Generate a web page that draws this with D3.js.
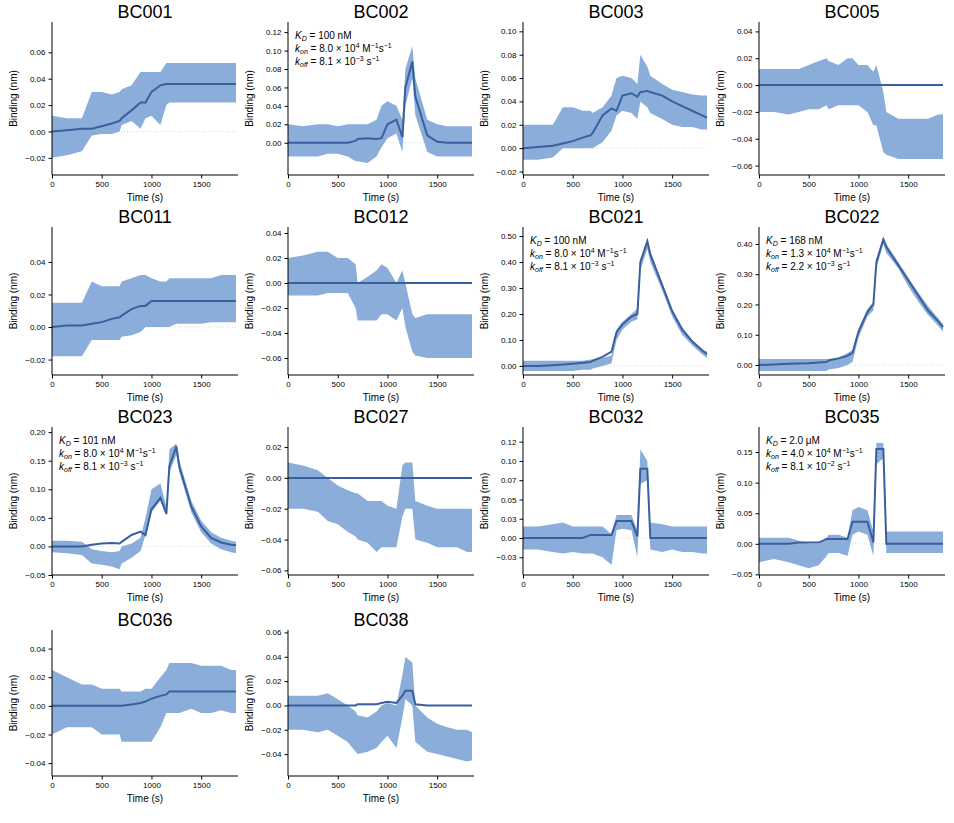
<!DOCTYPE html>
<html><head><meta charset="utf-8">
<script src="https://cdn.jsdelivr.net/npm/d3@7"></script>
<style>body{margin:0;background:#fff}svg{font-family:"Liberation Sans",Arial,sans-serif}</style>
</head><body><svg id="c" width="954" height="823"></svg>
<script>
const times=[0,150,300,400,500,600,680,700,800,890,940,1000,1090,1150,1180,1250,1280,1400,1500,1600,1700,1800,1850];
const names=["BC001","BC002","BC003","BC005","BC011","BC012","BC021","BC022","BC023","BC027","BC032","BC035","BC036","BC038"];
const yDomains=[[-0.033,0.083],[-0.035,0.131],[-0.023,0.108],[-0.067,0.047],[-0.0295,0.0615],[-0.0736,0.0448],[-0.035,0.535],[-0.033,0.456],[-0.05,0.209],[-0.063,0.033],[-0.048,0.144],[-0.051,0.191],[-0.049,0.053],[-0.058,0.062]];
const yTicks=[[-0.02,0,0.02,0.04,0.06],[0,0.02,0.04,0.06,0.08,0.1,0.12],[-0.02,0,0.02,0.04,0.06,0.08,0.1],[-0.06,-0.04,-0.02,0,0.02,0.04],[-0.02,0,0.02,0.04],[-0.06,-0.04,-0.02,0,0.02,0.04],[0,0.1,0.2,0.3,0.4,0.5],[0,0.1,0.2,0.3,0.4],[-0.05,0,0.05,0.1,0.15,0.2],[-0.06,-0.04,-0.02,0,0.02],[-0.025,0,0.025,0.05,0.075,0.1,0.125],[-0.05,0,0.05,0.1,0.15],[-0.04,-0.02,0,0.02,0.04],[-0.04,-0.02,0,0.02,0.04,0.06]];
const bc032TickLabels=["−0.03","0.00","0.03","0.05","0.07","0.10","0.12"];
const Z=new Array(23).fill(0);
const fits=[
[0,0.001,0.002,0.002,0.004,0.006,0.008,0.01,0.016,0.022,0.022,0.03,0.035,0.036,0.036,0.036,0.036,0.036,0.036,0.036,0.036,0.036,0.036],
[0,0,0,0,0,0,0.002,0.004,0.005,0.004,0.005,0.02,0.025,0.006,0.06,0.088,0.05,0.008,0.001,0,0,0,0],
[0,0.001,0.002,0.004,0.006,0.009,0.011,0.013,0.028,0.034,0.032,0.045,0.047,0.044,0.048,0.049,0.048,0.045,0.04,0.036,0.032,0.028,0.026],
Z,
[0,0.001,0.001,0.002,0.003,0.005,0.006,0.007,0.011,0.013,0.013,0.016,0.016,0.016,0.016,0.016,0.016,0.016,0.016,0.016,0.016,0.016,0.016],
Z,
[0,0,0.003,0.005,0.008,0.012,0.015,0.02,0.035,0.055,0.13,0.16,0.19,0.2,0.4,0.48,0.43,0.31,0.21,0.14,0.095,0.06,0.045],
[0,0.002,0.004,0.005,0.006,0.008,0.01,0.015,0.022,0.03,0.04,0.11,0.175,0.2,0.34,0.415,0.39,0.33,0.28,0.23,0.18,0.145,0.125],
[0,0,0,0.003,0.005,0.006,0.005,0.008,0.02,0.026,0.02,0.065,0.085,0.057,0.14,0.175,0.14,0.07,0.035,0.015,0.007,0.003,0.002],
Z,
[0,0,0,0,0,0,0.004,0.004,0.004,0.004,0.022,0.022,0.022,0.002,0.09,0.09,0,0,0,0,0,0,0],
[0,0,0,0.002,0.002,0.002,0.008,0.008,0.008,0.008,0.036,0.036,0.036,0.002,0.155,0.155,0,0,0,0,0,0,0],
[0,0,0,0,0,0,0,0,0.001,0.002,0.003,0.005,0.007,0.008,0.01,0.01,0.01,0.01,0.01,0.01,0.01,0.01,0.01],
[0,0,0,0,0,0,0,0.001,0.001,0.001,0.002,0.003,0.002,0.008,0.012,0.012,0.001,0,0,0,0,0,0]];
const lows=[
[-0.02,-0.018,-0.015,-0.003,-0.002,-0.002,0,0.005,0.008,0.002,0.01,0.012,0.005,0.02,0.022,0.022,0.022,0.022,0.022,0.022,0.022,0.022,0.022],
[-0.015,-0.015,-0.015,-0.012,-0.012,-0.015,-0.02,-0.02,-0.022,-0.015,-0.005,0.005,0.01,-0.01,0.04,0.07,0.03,-0.01,-0.015,-0.015,-0.015,-0.015,-0.015],
[-0.01,-0.01,-0.008,0,0,0,0,0,0.005,0.015,0.028,0.032,0.03,0.025,0.04,0.035,0.03,0.025,0.02,0.018,0.018,0.016,0.016],
[-0.02,-0.02,-0.022,-0.02,-0.018,-0.018,-0.015,-0.018,-0.015,-0.015,-0.015,-0.015,-0.02,-0.03,-0.03,-0.05,-0.052,-0.055,-0.055,-0.055,-0.055,-0.055,-0.055],
[-0.018,-0.018,-0.018,-0.008,-0.008,-0.008,-0.008,-0.006,-0.005,-0.003,0,0,0,0,0,0.002,0.002,0.002,0.002,0.003,0.003,0.003,0.003],
[-0.01,-0.01,-0.01,-0.008,-0.008,-0.008,-0.02,-0.03,-0.03,-0.03,-0.025,-0.025,-0.03,-0.02,-0.035,-0.055,-0.058,-0.06,-0.06,-0.06,-0.06,-0.06,-0.06],
[-0.02,-0.02,-0.02,-0.02,-0.02,-0.015,-0.015,-0.01,0,0.01,0.1,0.14,0.17,0.18,0.37,0.45,0.4,0.29,0.19,0.12,0.08,0.045,0.03],
[-0.02,-0.02,-0.02,-0.02,-0.02,-0.02,-0.02,-0.015,-0.01,0,0.01,0.09,0.16,0.18,0.32,0.4,0.37,0.32,0.26,0.21,0.165,0.13,0.11],
[-0.01,-0.012,-0.015,-0.03,-0.032,-0.035,-0.04,-0.03,-0.02,-0.008,0.02,0.06,0.08,0.055,0.13,0.16,0.13,0.06,0.025,0.005,-0.005,-0.01,-0.012],
[-0.02,-0.02,-0.022,-0.028,-0.03,-0.035,-0.038,-0.04,-0.042,-0.048,-0.045,-0.045,-0.045,-0.025,-0.02,-0.02,-0.04,-0.042,-0.045,-0.045,-0.045,-0.048,-0.048],
[-0.015,-0.015,-0.018,-0.02,-0.018,-0.02,-0.02,-0.02,-0.025,-0.035,0.01,0.012,0.01,-0.025,0.07,0.075,-0.015,-0.018,-0.015,-0.018,-0.018,-0.02,-0.02],
[-0.03,-0.025,-0.03,-0.035,-0.04,-0.035,-0.02,-0.015,-0.015,-0.02,0.015,0.02,0.015,-0.02,0.13,0.14,-0.015,-0.015,-0.015,-0.015,-0.015,-0.015,-0.015],
[-0.02,-0.015,-0.015,-0.015,-0.02,-0.02,-0.02,-0.025,-0.025,-0.025,-0.025,-0.025,-0.015,-0.005,-0.005,-0.005,-0.005,-0.002,-0.005,-0.005,-0.003,-0.005,-0.005],
[-0.02,-0.02,-0.022,-0.02,-0.025,-0.03,-0.038,-0.04,-0.038,-0.035,-0.03,-0.025,-0.035,-0.01,0.005,0,-0.03,-0.038,-0.04,-0.042,-0.044,-0.046,-0.045]];
const highs=[
[0.012,0.01,0.01,0.03,0.03,0.028,0.03,0.032,0.035,0.045,0.045,0.045,0.045,0.052,0.052,0.052,0.052,0.052,0.052,0.052,0.052,0.052,0.052],
[0.02,0.018,0.02,0.02,0.018,0.02,0.02,0.02,0.02,0.025,0.04,0.045,0.04,0.025,0.08,0.105,0.07,0.025,0.02,0.018,0.018,0.018,0.018],
[0.02,0.02,0.02,0.035,0.035,0.032,0.032,0.03,0.035,0.045,0.06,0.062,0.06,0.055,0.08,0.07,0.062,0.055,0.05,0.048,0.046,0.045,0.045],
[0.012,0.012,0.012,0.012,0.015,0.018,0.02,0.018,0.015,0.02,0.02,0.015,0.015,0.01,0.015,-0.005,-0.02,-0.025,-0.025,-0.025,-0.025,-0.022,-0.022],
[0.015,0.015,0.015,0.028,0.025,0.025,0.025,0.028,0.03,0.032,0.032,0.03,0.028,0.028,0.03,0.03,0.03,0.03,0.03,0.03,0.032,0.032,0.032],
[0.02,0.022,0.025,0.025,0.02,0.02,0.015,0,0.005,0.01,0.015,0.012,0,0.01,0,-0.025,-0.028,-0.025,-0.025,-0.025,-0.025,-0.025,-0.025],
[0.02,0.02,0.02,0.02,0.02,0.02,0.025,0.025,0.03,0.04,0.14,0.17,0.2,0.22,0.41,0.48,0.44,0.32,0.22,0.15,0.1,0.065,0.055],
[0.02,0.02,0.02,0.02,0.02,0.02,0.02,0.02,0.025,0.04,0.05,0.12,0.185,0.21,0.35,0.425,0.4,0.34,0.29,0.24,0.195,0.155,0.135],
[0.01,0.01,0.008,-0.005,-0.008,-0.01,-0.008,0,0.005,0.015,0.05,0.1,0.11,0.07,0.17,0.18,0.15,0.08,0.045,0.025,0.015,0.01,0.008],
[0.01,0.008,0.005,0,-0.005,-0.008,-0.01,-0.01,-0.015,-0.015,-0.015,-0.018,-0.02,0.008,0.01,0.01,-0.015,-0.018,-0.02,-0.02,-0.02,-0.02,-0.02],
[0.015,0.015,0.018,0.02,0.015,0.015,0.015,0.015,0.015,0.005,0.03,0.03,0.03,0.01,0.115,0.1,0.02,0.018,0.015,0.015,0.015,0.015,0.015],
[0.01,0.01,0.01,0.005,0,0,0.01,0.015,0.015,0.01,0.055,0.06,0.055,0.02,0.165,0.165,0.02,0.02,0.02,0.02,0.02,0.02,0.02],
[0.025,0.02,0.015,0.015,0.012,0.012,0.012,0.01,0.01,0.01,0.012,0.012,0.02,0.025,0.03,0.03,0.03,0.03,0.028,0.028,0.028,0.025,0.025],
[0.008,0.008,0.008,0.01,0.005,0,-0.005,-0.008,-0.01,-0.005,0,0.002,0,0.025,0.04,0.035,0,-0.01,-0.015,-0.018,-0.02,-0.02,-0.022]];
const xTicks=[0,500,1000,1500];
const annot={"BC002":["100 nM","8.0 × 10","4","8.1 × 10","−3"],"BC021":["100 nM","8.0 × 10","4","8.1 × 10","−3"],"BC022":["168 nM","1.3 × 10","4","2.2 × 10","−3"],"BC023":["101 nM","8.0 × 10","4","8.1 × 10","−3"],"BC035":["2.0 μM","4.0 × 10","4","8.1 × 10","−2"]};

const svg=d3.select("#c");
const lefts=[52,288,523,759], W=186;
const rows=[[22,175],[227,375],[427,575],[630,776]];
const fmt=v=>d3.format(".2f")(v).replace("-","−");
names.forEach((nm,i)=>{
  const col=i%4,row=Math.floor(i/4);
  const x0=lefts[col],[top,bot]=rows[row];
  const x=d3.scaleLinear().domain([0,1870]).range([x0,x0+W]);
  const y=d3.scaleLinear().domain(yDomains[i]).range([bot,top]);
  const g=svg.append("g");
  const pts=times.map((t,k)=>({t,lo:lows[i][k],hi:highs[i][k],f:fits[i][k]}));
  g.append("line").attr("x1",x(0)).attr("x2",x(1870)).attr("y1",y(0)).attr("y2",y(0)).attr("stroke","#ccc").attr("stroke-width",0.8).attr("stroke-dasharray","1,2");
  g.append("path").datum(pts).attr("d",d3.area().x(d=>x(d.t)).y0(d=>y(d.lo)).y1(d=>y(d.hi))).attr("fill","#8aaed9");
  g.append("path").datum(pts).attr("d",d3.line().x(d=>x(d.t)).y(d=>y(d.f))).attr("fill","none").attr("stroke","#3a5f9f").attr("stroke-width",2);
  const ax=g.append("g").attr("transform",`translate(0,${bot})`).call(d3.axisBottom(x).tickValues(xTicks).tickSize(3.5).tickFormat(d3.format("d")));
  const yf = nm==="BC032" ? ((v,k)=>bc032TickLabels[k]) : fmt;
  const ay=g.append("g").attr("transform",`translate(${x0},0)`).call(d3.axisLeft(y).tickValues(yTicks[i]).tickSize(3.5).tickFormat(yf));
  [ax,ay].forEach(a=>{a.selectAll("text").attr("font-size",8).attr("fill","#000").attr("font-family","Liberation Sans, Arial");a.select(".domain").attr("stroke","#000");});
  ax.select(".domain").attr("d",`M${x0},0H${x0+W}`);
  ay.select(".domain").attr("d",`M0,${bot}V${top}`);
  g.append("text").attr("x",x(935)).attr("y",bot+26).attr("text-anchor","middle").attr("font-size",10).text("Time (s)");
  g.append("text").attr("transform",`translate(${x0-35},${(top+bot)/2}) rotate(-90)`).attr("text-anchor","middle").attr("font-size",10).text("Binding (nm)");
  g.append("text").attr("x",x0+W/2).attr("y",top-4).attr("text-anchor","middle").attr("font-size",18).text(nm);
  const a=annot[nm];
  if(a){
    const tx=x0+7,fs=10;
    const t1=g.append("text").attr("x",tx).attr("y",top+17).attr("font-size",fs);
    t1.append("tspan").attr("font-style","italic").text("K");
    t1.append("tspan").attr("font-style","italic").attr("font-size",7).attr("dy",2).text("D");
    t1.append("tspan").attr("dy",-2).text(" = "+a[0]);
    const t2=g.append("text").attr("x",tx).attr("y",top+30).attr("font-size",fs);
    t2.append("tspan").attr("font-style","italic").text("k");
    t2.append("tspan").attr("font-style","italic").attr("font-size",7).attr("dy",2).text("on");
    t2.append("tspan").attr("dy",-2).text(" = "+a[1]);
    t2.append("tspan").attr("font-size",7).attr("dy",-4).text(a[2]);
    t2.append("tspan").attr("dy",4).text(" M");
    t2.append("tspan").attr("font-size",7).attr("dy",-4).text("−1");
    t2.append("tspan").attr("dy",4).text("s");
    t2.append("tspan").attr("font-size",7).attr("dy",-4).text("−1");
    const t3=g.append("text").attr("x",tx).attr("y",top+43).attr("font-size",fs);
    t3.append("tspan").attr("font-style","italic").text("k");
    t3.append("tspan").attr("font-style","italic").attr("font-size",7).attr("dy",2).text("off");
    t3.append("tspan").attr("dy",-2).text(" = "+a[3]);
    t3.append("tspan").attr("font-size",7).attr("dy",-4).text(a[4]);
    t3.append("tspan").attr("dy",4).text(" s");
    t3.append("tspan").attr("font-size",7).attr("dy",-4).text("−1");
  }
});
</script></body></html>
